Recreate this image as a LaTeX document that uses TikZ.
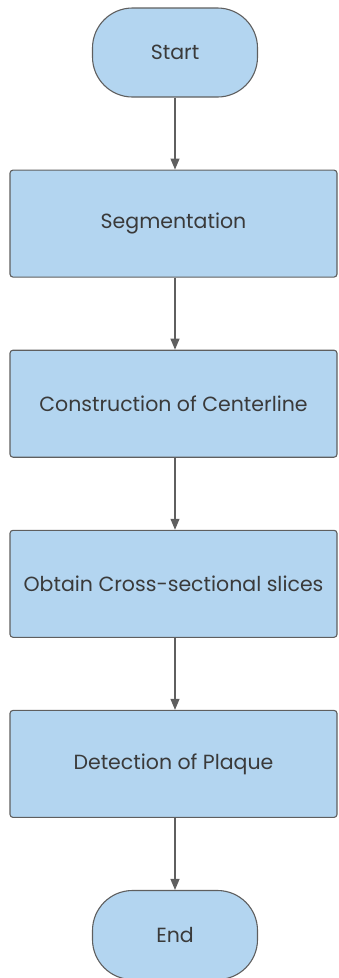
\documentclass[tikz,border=0pt]{standalone}
\usepackage{fontspec}
\setmainfont{Poppins}
\usetikzlibrary{positioning,arrows.meta}
\definecolor{boxblue}{HTML}{B3D5F0}
\definecolor{edgegray}{HTML}{5F5F5F}
\definecolor{textgray}{HTML}{3A3A3A}
\begin{document}
\begin{tikzpicture}[x=1pt,y=1pt,node distance=72pt,
  flowbox/.style={draw=edgegray,fill=boxblue,line width=1.1pt,rounded corners=3pt,
    minimum width=327pt,minimum height=107pt,text=textgray,font=\fontsize{20.5}{24}\selectfont,inner sep=0pt},
  terminal/.style={flowbox,minimum width=165pt,minimum height=89pt,rounded corners=40pt},
  flowarrow/.style={draw=edgegray,line width=1.1pt,-{Triangle[length=11pt,width=9pt]}}]
\useasboundingbox (0,0) rectangle (338,-978);
\node[terminal] (start) at (175,-52.5) {Start};
\node[flowbox,below=of start.south,anchor=north,xshift=-1.5pt] (seg) {Segmentation};
\node[flowbox,below=of seg] (cons) {Construction of Centerline};
\node[flowbox,below=of cons] (obt) {Obtain Cross-sectional slices};
\node[flowbox,below=of obt] (det) {Detection of Plaque};
\node[terminal,below=of det.south,anchor=north,xshift=1.5pt] (end) {End};
\draw[flowarrow] (start) -- (start|-seg.north);
\draw[flowarrow] (start|-seg.south) -- (start|-cons.north);
\draw[flowarrow] (start|-cons.south) -- (start|-obt.north);
\draw[flowarrow] (start|-obt.south) -- (start|-det.north);
\draw[flowarrow] (start|-det.south) -- (end);
\end{tikzpicture}
\end{document}
